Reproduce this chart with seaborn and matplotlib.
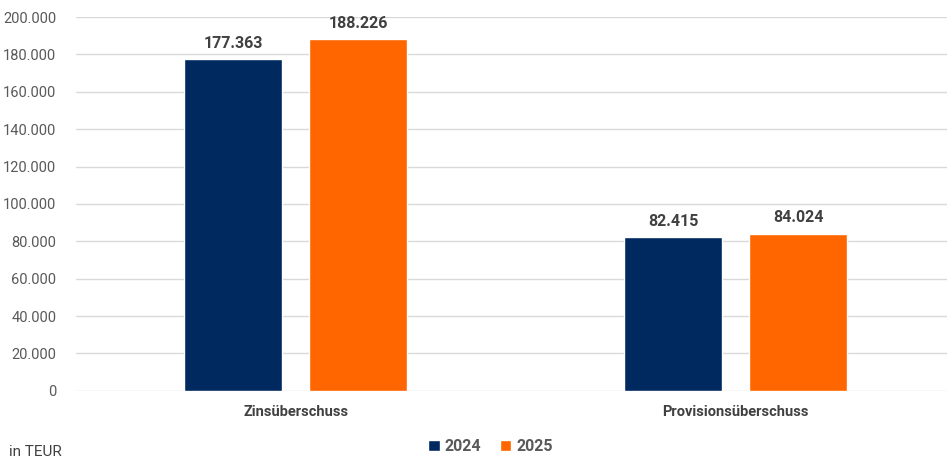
import pandas as pd
import seaborn as sns
import matplotlib.pyplot as plt
from matplotlib.ticker import FuncFormatter

# Daten (in TEUR)
kategorien = ["Zinsüberschuss", "Provisionsüberschuss"]
jahre = ["2024", "2025"]
werte_2024 = [177363, 82415]
werte_2025 = [188226, 84024]

df = pd.DataFrame({
    "Kategorie": kategorien * 2,
    "Jahr": [jahre[0]] * 2 + [jahre[1]] * 2,
    "Wert": werte_2024 + werte_2025,
})

def de_format(v):
    return f"{v:,.0f}".replace(",", ".")

sns.set_style("white")
plt.rcParams["font.family"] = ["Roboto", "DejaVu Sans"]

fig = plt.figure(figsize=(9.47, 4.62), dpi=100)
ax = fig.add_axes([0.080, 0.154, 0.920, 0.809])

palette = {"2024": "#002960", "2025": "#FF6600"}
sns.barplot(data=df, x="Kategorie", y="Wert", hue="Jahr", palette=palette,
            width=0.568, gap=0.216, ax=ax, legend=True, saturation=1)

for cont in ax.containers:
    ax.bar_label(cont, labels=[de_format(v) for v in cont.datavalues],
                 padding=6, fontsize=11.5, fontweight="bold", color="#404040")

ax.set_ylim(0, 200000)
ax.set_xlim(-0.5, 1.48)
ax.set_yticks(range(0, 200001, 20000))
ax.yaxis.set_major_formatter(FuncFormatter(lambda v, p: de_format(v)))
ax.grid(axis="y", color="#d9d9d9", linewidth=1)
ax.set_axisbelow(True)
for s in ax.spines.values():
    s.set_visible(False)
ax.tick_params(axis="y", length=0, pad=14, labelsize=10.5, labelcolor="#595959")
ax.tick_params(axis="x", length=0, pad=10, labelsize=10.5, labelcolor="#404040")
for lbl in ax.get_xticklabels():
    lbl.set_fontweight("bold")
ax.set_xlabel("")
ax.set_ylabel("")

leg = ax.legend(loc="center", bbox_to_anchor=(0.476, -0.15), ncol=2, frameon=False,
                handlelength=0.7, handleheight=0.7, handletextpad=0.3,
                columnspacing=1.2, prop={"weight": "bold", "size": 11.5})
for t in leg.get_texts():
    t.set_color("#595959")

fig.text(0.009, 0.012, "in TEUR", fontsize=11, color="#404040")

fig.savefig("out.png", dpi=100)
